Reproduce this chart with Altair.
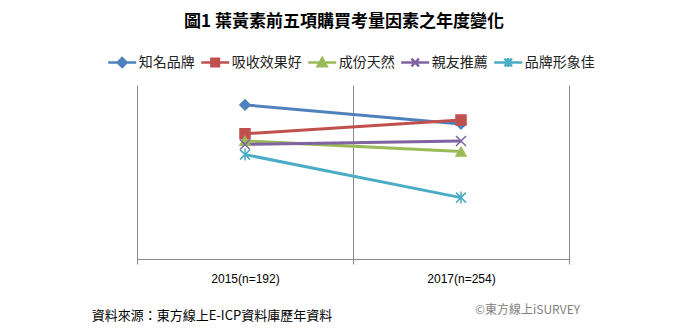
import altair as alt
import pandas as pd

TITLE = "圖1 葉黃素前五項購買考量因素之年度變化"
SOURCE_TEXT = "資料來源：東方線上E-ICP資料庫歷年資料"
COPYRIGHT_TEXT = "©東方線上iSURVEY"

years = ["2015(n=192)", "2017(n=254)"]
series = ["知名品牌", "吸收效果好", "成份天然", "親友推薦", "品牌形象佳"]

brand_known = [62.0, 54.3]
absorb_good = [50.4, 55.9]
natural_ingr = [47.5, 43.2]
friend_recommend = [46.1, 47.5]
brand_image = [42.0, 24.7]

colors = ["#4F81BD", "#C0504D", "#9BBB59", "#8064A2", "#4BACC6"]

point_shapes = [
    "diamond",
    "square",
    "triangle-up",
    "M-1,-1L1,1M-1,1L1,-1",
    "M-1,-1L1,1M-1,1L1,-1M0,-1.2V1.2",
]
legend_shapes = [
    "M-1,0H1M0,-0.32L0.32,0L0,0.32L-0.32,0Z",
    "M-1,0H1M-0.27,-0.27H0.27V0.27H-0.27Z",
    "M-1,0H1M0,-0.32L0.32,0.26L-0.32,0.26Z",
    "M-1,0H1M-0.27,-0.27L0.27,0.27M-0.27,0.27L0.27,-0.27",
    "M-1,0H1M-0.27,-0.27L0.27,0.27M-0.27,0.27L0.27,-0.27M0,-0.32V0.32",
]

all_values = [brand_known, absorb_good, natural_ingr, friend_recommend, brand_image]
rows = []
for s, vals in zip(series, all_values):
    for yr, v in zip(years, vals):
        rows.append({"series": s, "year": yr, "value": v})
df = pd.DataFrame(rows)

CJK = "Noto Sans CJK TC"
LATIN = "Liberation Sans"

x_enc = alt.X(
    "year:N",
    sort=years,
    scale=alt.Scale(type="band", domain=years, paddingInner=0, paddingOuter=0),
    axis=alt.Axis(
        title=None,
        tickBand="extent",
        grid=True,
        gridColor="#878787",
        gridWidth=1,
        domainColor="#878787",
        tickColor="#878787",
        tickSize=5,
        labelAngle=0,
        labelFont=LATIN,
        labelFontSize=12,
        labelColor="#000000",
        labelPadding=9,
    ),
)
y_enc = alt.Y("value:Q", scale=alt.Scale(domain=[0, 70]), axis=None)

color_scale = alt.Scale(domain=series, range=colors)

base = alt.Chart(df)

lines = base.mark_line(strokeWidth=3).encode(
    x=x_enc,
    y=y_enc,
    color=alt.Color("series:N", scale=color_scale, legend=None),
)

pts = base.mark_point(filled=True, size=100, strokeWidth=1.5, opacity=1).encode(
    x=x_enc,
    y=y_enc,
    fill=alt.Fill("series:N", scale=alt.Scale(domain=series, range=colors), legend=None),
    stroke=alt.Stroke("series:N", scale=alt.Scale(domain=series, range=colors), legend=None),
    shape=alt.Shape("series:N", scale=alt.Scale(domain=series, range=point_shapes), legend=None),
)

leg_params = dict(
    orient="none",
    legendX=-30.3,
    legendY=-38,
    direction="horizontal",
    gridAlign="none",
    title=None,
    symbolSize=784,
    symbolStrokeWidth=2.5,
    symbolOpacity=1,
    labelFont=CJK,
    labelFontSize=14,
    labelColor="#222222",
    labelOffset=1,
    columnPadding=1,
    padding=0,
)

leg = base.mark_point(filled=True, size=100, opacity=0).encode(
    x=x_enc,
    y=y_enc,
    fill=alt.Fill("series:N", scale=alt.Scale(domain=series, range=colors), legend=alt.Legend(**leg_params)),
    stroke=alt.Stroke("series:N", scale=alt.Scale(domain=series, range=colors), legend=alt.Legend(**leg_params)),
    shape=alt.Shape("series:N", scale=alt.Scale(domain=series, range=legend_shapes), legend=alt.Legend(**leg_params)),
)

title_txt = alt.Chart(pd.DataFrame({"t": [TITLE]})).mark_text(
    align="center", baseline="middle", font=CJK, fontSize=17, fontWeight="bold", color="#000000"
).encode(x=alt.value(207), y=alt.value(-63.3), text="t:N")

src = alt.Chart(pd.DataFrame({"t": [SOURCE_TEXT]})).mark_text(
    align="left", baseline="middle", font=CJK, fontSize=13, color="#000000"
).encode(x=alt.value(-45.3), y=alt.value(230.7), text="t:N")

cr = alt.Chart(pd.DataFrame({"t": [COPYRIGHT_TEXT]})).mark_text(
    align="left", baseline="middle", font=CJK, fontSize=12, color="#808080"
).encode(x=alt.value(338), y=alt.value(225), text="t:N")

chart = (
    alt.layer(lines, pts, leg, title_txt, src, cr)
    .resolve_scale(fill="independent", stroke="independent", shape="independent")
    .properties(
        width=432,
        height=174,
        padding={"left": 137, "top": 85, "right": 131, "bottom": 73},
        autosize=alt.AutoSizeParams(type="none"),
    )
    .configure_view(stroke=None)
)

chart.save("out.html", embed_options={"renderer": "svg", "actions": False})
